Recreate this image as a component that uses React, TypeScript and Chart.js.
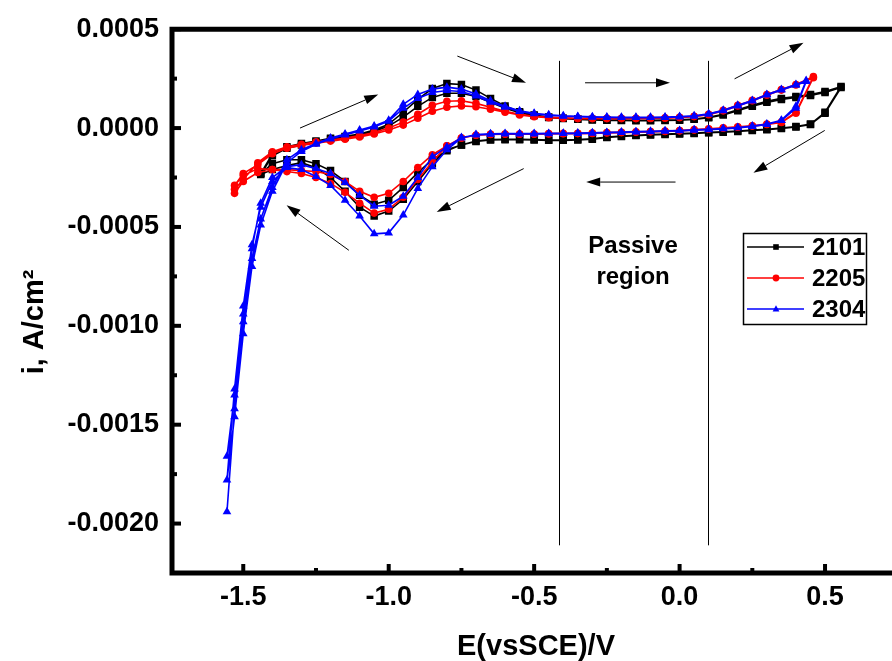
import React, { useEffect, useRef } from "react";
import { Chart, registerables } from "chart.js";

Chart.register(...registerables);

const FONT = '"Liberation Sans", Arial, Helvetica, sans-serif';

// Currents below are written in units of 1e-4 A/cm^2
const CURRENT_UNIT = 1e-4;

// ---------- 2101 ----------
const E_2101 = [-1.44, -1.40, -1.35, -1.30, -1.25, -1.20, -1.15, -1.10, -1.05, -1.00, -0.95, -0.90, -0.85, -0.80, -0.75, -0.70, -0.65, -0.60, -0.55, -0.50, -0.45, -0.40, -0.35, -0.30, -0.25, -0.20, -0.15, -0.10, -0.05, 0.00, 0.05, 0.10, 0.15, 0.20, 0.25, 0.30, 0.35, 0.40, 0.45, 0.50, 0.555];
const I_2101_FWD1 = [-2.3, -1.3, -0.95, -0.78, -0.65, -0.52, -0.42, -0.3, -0.1, 0.2, 0.8, 1.45, 2.0, 2.25, 2.2, 1.92, 1.5, 1.12, 0.82, 0.66, 0.56, 0.5, 0.46, 0.43, 0.41, 0.4, 0.39, 0.39, 0.4, 0.42, 0.46, 0.55, 0.7, 0.92, 1.15, 1.35, 1.5, 1.6, 1.7, 1.85, 2.1];
const I_2101_REV1 = [2.1, 0.8, 0.2, 0.08, 0.0, -0.06, -0.1, -0.15, -0.19, -0.22, -0.25, -0.28, -0.3, -0.33, -0.36, -0.4, -0.46, -0.54, -0.58, -0.6, -0.6, -0.58, -0.57, -0.57, -0.58, -0.66, -0.86, -1.1, -1.8, -2.7, -3.6, -4.2, -4.45, -4.0, -3.2, -2.5, -2.0, -1.75, -1.9, -2.1, -2.35];
const I_2101_FWD2 = [-2.35, -1.4, -1.02, -0.85, -0.7, -0.57, -0.47, -0.35, -0.17, 0.1, 0.55, 1.1, 1.55, 1.76, 1.76, 1.6, 1.3, 1.0, 0.78, 0.63, 0.54, 0.48, 0.44, 0.41, 0.39, 0.38, 0.37, 0.37, 0.38, 0.4, 0.44, 0.52, 0.66, 0.88, 1.1, 1.3, 1.45, 1.55, 1.65, 1.8, 2.05];
const I_2101_REV2 = [2.05, 0.75, 0.18, 0.06, -0.02, -0.08, -0.12, -0.17, -0.21, -0.24, -0.27, -0.3, -0.32, -0.35, -0.38, -0.42, -0.48, -0.56, -0.6, -0.62, -0.62, -0.6, -0.59, -0.59, -0.6, -0.68, -0.85, -1.15, -1.6, -2.25, -3.0, -3.65, -3.85, -3.4, -2.7, -2.15, -1.8, -1.6, -1.6, -1.8, -2.3];

// ---------- 2205 ----------
const E_2205 = [-1.53, -1.50, -1.45, -1.40, -1.35, -1.30, -1.25, -1.20, -1.15, -1.10, -1.05, -1.00, -0.95, -0.90, -0.85, -0.80, -0.75, -0.70, -0.65, -0.60, -0.55, -0.50, -0.45, -0.40, -0.35, -0.30, -0.25, -0.20, -0.15, -0.10, -0.05, 0.00, 0.05, 0.10, 0.15, 0.20, 0.25, 0.30, 0.35, 0.40, 0.46];
const I_2205_FWD1 = [-3.1, -2.6, -1.75, -1.2, -0.95, -0.82, -0.7, -0.6, -0.5, -0.38, -0.22, 0.0, 0.3, 0.7, 1.15, 1.36, 1.38, 1.25, 1.05, 0.85, 0.7, 0.6, 0.55, 0.52, 0.5, 0.5, 0.5, 0.5, 0.5, 0.5, 0.52, 0.55, 0.6, 0.7, 0.9, 1.15, 1.4, 1.7, 1.95, 2.2, 2.6];
const I_2205_REV1 = [2.6, 0.8, 0.3, 0.2, 0.12, 0.06, 0.01, -0.04, -0.08, -0.12, -0.15, -0.17, -0.19, -0.21, -0.23, -0.25, -0.26, -0.27, -0.28, -0.3, -0.3, -0.3, -0.31, -0.36, -0.5, -0.9, -1.7, -2.6, -3.5, -4.1, -4.3, -3.8, -3.25, -2.8, -2.5, -2.3, -2.2, -2.1, -2.05, -2.4, -2.9];
const I_2205_FWD2 = [-2.9, -2.3, -1.85, -1.3, -1.02, -0.88, -0.76, -0.66, -0.56, -0.45, -0.3, -0.1, 0.15, 0.5, 0.85, 1.05, 1.12, 1.08, 0.95, 0.8, 0.66, 0.57, 0.52, 0.5, 0.48, 0.48, 0.48, 0.48, 0.48, 0.49, 0.5, 0.53, 0.58, 0.68, 0.87, 1.12, 1.38, 1.66, 1.92, 2.18, 2.55];
const I_2205_REV2 = [2.55, 0.75, 0.28, 0.18, 0.1, 0.04, -0.01, -0.06, -0.1, -0.14, -0.17, -0.19, -0.21, -0.23, -0.25, -0.27, -0.28, -0.29, -0.3, -0.31, -0.31, -0.31, -0.32, -0.36, -0.5, -0.9, -1.35, -2.0, -2.7, -3.3, -3.5, -3.2, -2.7, -2.35, -2.2, -2.15, -2.1, -2.1, -2.25, -2.7, -3.3];

// ---------- 2304 ----------
const E_2304 = [-1.556, -1.53, -1.50, -1.47, -1.44, -1.40, -1.35, -1.30, -1.25, -1.20, -1.15, -1.10, -1.05, -1.00, -0.95, -0.90, -0.85, -0.80, -0.75, -0.70, -0.65, -0.60, -0.55, -0.50, -0.45, -0.40, -0.35, -0.30, -0.25, -0.20, -0.15, -0.10, -0.05, 0.00, 0.05, 0.10, 0.15, 0.20, 0.25, 0.30, 0.35, 0.40, 0.435];
const I_2304_FWD1 = [-16.6, -13.5, -9.8, -6.6, -4.6, -3.0, -1.6, -1.1, -0.78, -0.5, -0.3, -0.1, 0.1, 0.4, 1.2, 1.7, 1.97, 2.07, 1.97, 1.72, 1.38, 1.1, 0.87, 0.75, 0.67, 0.62, 0.59, 0.57, 0.56, 0.55, 0.55, 0.55, 0.56, 0.58, 0.62, 0.72, 0.9, 1.15, 1.4, 1.7, 1.95, 2.2, 2.4];
const I_2304_REV1 = [2.4, 1.1, 0.4, 0.2, 0.1, 0.03, -0.02, -0.06, -0.09, -0.12, -0.14, -0.16, -0.18, -0.2, -0.22, -0.24, -0.25, -0.26, -0.27, -0.28, -0.28, -0.28, -0.29, -0.33, -0.5, -1.1, -1.95, -3.05, -4.4, -5.3, -5.35, -4.45, -3.65, -2.9, -2.45, -2.1, -2.0, -2.7, -4.0, -5.9, -9.0, -13.2, -17.8];
const I_2304_FWD2 = [-17.8, -14.6, -10.4, -7.0, -4.9, -3.2, -1.75, -1.18, -0.82, -0.55, -0.35, -0.15, 0.05, 0.35, 1.0, 1.5, 1.8, 1.9, 1.85, 1.62, 1.3, 1.05, 0.84, 0.72, 0.65, 0.6, 0.57, 0.55, 0.54, 0.53, 0.53, 0.53, 0.54, 0.56, 0.6, 0.7, 0.88, 1.12, 1.37, 1.67, 1.92, 2.17, 2.35];
const I_2304_REV2 = [2.35, 1.0, 0.38, 0.18, 0.08, 0.01, -0.04, -0.08, -0.11, -0.14, -0.16, -0.18, -0.2, -0.22, -0.24, -0.26, -0.27, -0.28, -0.29, -0.3, -0.3, -0.3, -0.31, -0.35, -0.48, -0.95, -1.45, -2.5, -3.45, -3.9, -3.95, -3.4, -2.75, -2.3, -2.05, -1.85, -1.95, -2.5, -3.8, -6.1, -9.4, -14.2, -19.4];

// ---------- axes ----------
const X_MIN = -1.745;
const X_MAX = 0.712;
const Y_MIN = -0.00225;
const Y_MAX = 0.0005;
const X_TICKS = [-1.5, -1.0, -0.5, 0.0, 0.5];
const X_MINOR_TICKS = [-1.25, -0.75, -0.25, 0.25];
const Y_TICKS = [0.0005, 0.0, -0.0005, -0.001, -0.0015, -0.002];
const Y_MINOR_TICKS = [0.00025, -0.00025, -0.00075, -0.00125, -0.00175];
const X_TITLE = "E(vsSCE)/V";
const Y_TITLE = "i, A/cm²";

// ---------- annotations (data coordinates) ----------
const PASSIVE_BOUNDS = [-0.413, 0.096];
const PASSIVE_LINE_TOP = 0.00034;
const PASSIVE_LINE_BOTTOM = -0.00211;
const PASSIVE_LABEL = ["Passive", "region"];
const PASSIVE_LABEL_E = -0.16;
const PASSIVE_LABEL_I = [-0.000596, -0.000753];
// [E tail, i tail, E head, i head]
const ARROWS = [
  [-1.305, 0.0, -1.036, 0.00017],
  [-0.764, 0.000364, -0.528, 0.000229],
  [-0.325, 0.000229, -0.033, 0.000229],
  [0.189, 0.000249, 0.426, 0.000431],
  [0.499, -0.000012, 0.254, -0.000226],
  [-0.014, -0.000273, -0.321, -0.000273],
  [-0.536, -0.000205, -0.835, -0.000424],
  [-1.137, -0.000618, -1.351, -0.00039],
];

const SERIES = [
  { label: "2101", color: "#000000", style: "rect", radius: 5.3, E: E_2101, branches: [I_2101_FWD1, I_2101_REV1, I_2101_FWD2, I_2101_REV2] },
  { label: "2205", color: "#ff0000", style: "circle", radius: 3.8, E: E_2205, branches: [I_2205_FWD1, I_2205_REV1, I_2205_FWD2, I_2205_REV2] },
  { label: "2304", color: "#0000ff", style: "triangle", radius: 5, E: E_2304, branches: [I_2304_FWD1, I_2304_REV1, I_2304_FWD2, I_2304_REV2] },
];

function buildPath(E: number[], branches: number[][]) {
  const pts: { x: number; y: number }[] = [];
  const n = E.length;
  branches.forEach((arr, b) => {
    const ascending = b % 2 === 0;
    arr.forEach((v, k) => {
      if (b > 0 && k === 0) return;
      pts.push({ x: ascending ? E[k] : E[n - 1 - k], y: v * CURRENT_UNIT });
    });
  });
  return pts;
}

function drawMarker(ctx: CanvasRenderingContext2D, style: string, x: number, y: number, r: number) {
  ctx.beginPath();
  if (style === "rect") {
    ctx.rect(x - r, y - r, 2 * r, 2 * r);
  } else if (style === "circle") {
    ctx.arc(x, y, r, 0, Math.PI * 2);
  } else {
    ctx.moveTo(x, y - r * 1.1);
    ctx.lineTo(x + r, y + r * 0.7);
    ctx.lineTo(x - r, y + r * 0.7);
    ctx.closePath();
  }
  ctx.fill();
}

const decorPlugin = {
  id: "decor",
  beforeDatasetsDraw(chart: any) {
    const { ctx } = chart;
    const xs = chart.scales.x;
    const ys = chart.scales.y;
    ctx.save();
    ctx.strokeStyle = "#000";
    ctx.fillStyle = "#000";
    ctx.lineWidth = 1;
    PASSIVE_BOUNDS.forEach((e) => {
      const px = Math.round(xs.getPixelForValue(e)) + 0.5;
      ctx.beginPath();
      ctx.moveTo(px, ys.getPixelForValue(PASSIVE_LINE_TOP));
      ctx.lineTo(px, ys.getPixelForValue(PASSIVE_LINE_BOTTOM));
      ctx.stroke();
    });
    ARROWS.forEach(([e1, i1, e2, i2]) => {
      const x1 = xs.getPixelForValue(e1);
      const y1 = ys.getPixelForValue(i1);
      const x2 = xs.getPixelForValue(e2);
      const y2 = ys.getPixelForValue(i2);
      const ang = Math.atan2(y2 - y1, x2 - x1);
      const L = 14;
      const W = 4.5;
      const bx = x2 - L * Math.cos(ang);
      const by = y2 - L * Math.sin(ang);
      ctx.beginPath();
      ctx.moveTo(x1, y1);
      ctx.lineTo(bx, by);
      ctx.stroke();
      ctx.beginPath();
      ctx.moveTo(x2, y2);
      ctx.lineTo(bx + W * Math.sin(ang), by - W * Math.cos(ang));
      ctx.lineTo(bx - W * Math.sin(ang), by + W * Math.cos(ang));
      ctx.closePath();
      ctx.fill();
    });
    ctx.font = `bold 24px ${FONT}`;
    ctx.textAlign = "center";
    ctx.textBaseline = "middle";
    PASSIVE_LABEL.forEach((line, k) => {
      ctx.fillText(line, xs.getPixelForValue(PASSIVE_LABEL_E), ys.getPixelForValue(PASSIVE_LABEL_I[k]));
    });
    ctx.restore();
  },
  afterDraw(chart: any) {
    const { ctx, chartArea: a } = chart;
    const xs = chart.scales.x;
    const ys = chart.scales.y;
    ctx.save();
    // frame
    ctx.strokeStyle = "#000";
    ctx.lineWidth = 5;
    ctx.lineCap = "square";
    ctx.beginPath();
    ctx.moveTo(chart.width + 5, a.top);
    ctx.lineTo(a.left, a.top);
    ctx.lineTo(a.left, a.bottom);
    ctx.lineTo(chart.width + 5, a.bottom);
    ctx.stroke();
    // inward ticks
    ctx.lineCap = "butt";
    ctx.lineWidth = 4;
    const xt = (v: number, len: number) => {
      const px = xs.getPixelForValue(v);
      ctx.beginPath();
      ctx.moveTo(px, a.bottom);
      ctx.lineTo(px, a.bottom - len);
      ctx.stroke();
    };
    const yt = (v: number, len: number) => {
      const py = ys.getPixelForValue(v);
      ctx.beginPath();
      ctx.moveTo(a.left, py);
      ctx.lineTo(a.left + len, py);
      ctx.stroke();
    };
    X_TICKS.forEach((v) => xt(v, 9));
    X_MINOR_TICKS.forEach((v) => xt(v, 5));
    Y_TICKS.forEach((v) => yt(v, 9));
    Y_MINOR_TICKS.forEach((v) => yt(v, 5));
    // axis titles
    ctx.fillStyle = "#000";
    ctx.font = `bold 29px ${FONT}`;
    ctx.textAlign = "center";
    ctx.textBaseline = "middle";
    ctx.fillText(X_TITLE, (a.left + chart.width) / 2 + 4, 647);
    ctx.save();
    ctx.translate(35, 322);
    ctx.rotate(-Math.PI / 2);
    ctx.fillText(Y_TITLE, 0, 0);
    ctx.restore();
    // legend
    const boxL = 743, boxT = 233, boxW = 123, boxH = 91;
    ctx.lineWidth = 1.5;
    ctx.strokeStyle = "#000";
    ctx.strokeRect(boxL + 0.5, boxT + 0.5, boxW, boxH);
    const rows = [247, 278, 309];
    ctx.font = `bold 24px ${FONT}`;
    ctx.textAlign = "left";
    ctx.textBaseline = "middle";
    SERIES.forEach((s, k) => {
      const y = rows[k];
      ctx.strokeStyle = s.color;
      ctx.fillStyle = s.color;
      ctx.lineWidth = 1.5;
      ctx.beginPath();
      ctx.moveTo(747, y);
      ctx.lineTo(804, y);
      ctx.stroke();
      drawMarker(ctx, s.style, 776, y, s.style === "rect" ? 2.8 : 3.4);
      ctx.fillStyle = "#000";
      ctx.fillText(s.label, 812, y + 1);
    });
    ctx.restore();
  },
};

export default function App() {
  const canvasRef = useRef<HTMLCanvasElement | null>(null);

  useEffect(() => {
    const canvas = canvasRef.current;
    if (!canvas) return;
    const datasets = SERIES.map((s, i) => ({
      label: s.label,
      data: buildPath(s.E, s.branches),
      showLine: true,
      borderColor: s.color,
      backgroundColor: s.color,
      borderWidth: 1.6,
      pointStyle: s.style,
      pointRadius: s.radius,
      pointBackgroundColor: s.color,
      pointBorderColor: s.color,
      pointBorderWidth: 0,
      tension: 0,
      order: SERIES.length - i,
    }));
    const tickFont = { family: FONT, size: 27, weight: "bold" as const };
    const chart = new Chart(canvas, {
      type: "scatter",
      data: { datasets } as any,
      options: {
        animation: false,
        responsive: false,
        devicePixelRatio: 1,
        layout: { padding: { top: 29, right: 0, bottom: 0, left: 0 } },
        plugins: { legend: { display: false }, tooltip: { enabled: false } },
        scales: {
          x: {
            type: "linear",
            min: X_MIN,
            max: X_MAX,
            afterBuildTicks: (s: any) => {
              s.ticks = X_TICKS.map((v) => ({ value: v }));
            },
            afterFit: (s: any) => {
              s.height = 88;
            },
            grid: { display: false, drawTicks: false },
            border: { display: false },
            ticks: {
              color: "#000",
              font: tickFont,
              padding: 8,
              maxRotation: 0,
              autoSkip: false,
              callback: (v: any) => Number(v).toFixed(1),
            },
            title: { display: false },
          },
          y: {
            type: "linear",
            min: Y_MIN,
            max: Y_MAX,
            afterBuildTicks: (s: any) => {
              s.ticks = Y_TICKS.map((v) => ({ value: v }));
            },
            afterFit: (s: any) => {
              s.width = 172;
            },
            grid: { display: false, drawTicks: false },
            border: { display: false },
            ticks: {
              color: "#000",
              font: tickFont,
              padding: 13,
              autoSkip: false,
              callback: (v: any) => Number(v).toFixed(4),
            },
            title: { display: false },
          },
        },
      },
      plugins: [decorPlugin],
    } as any);
    return () => chart.destroy();
  }, []);

  return (
    <div style={{ position: "absolute", left: 0, top: 0, width: 892, height: 661, background: "#fff" }}>
      <canvas ref={canvasRef} width={892} height={661} style={{ display: "block" }} />
    </div>
  );
}
